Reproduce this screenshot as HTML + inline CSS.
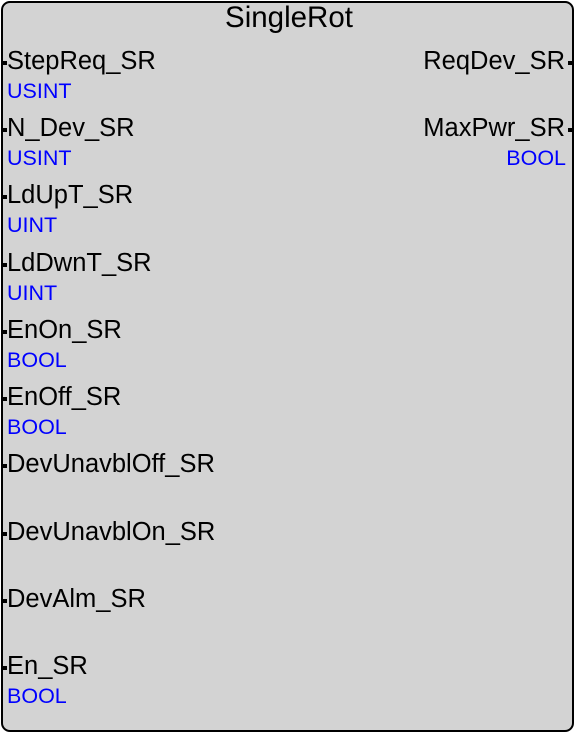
<!DOCTYPE html>
<html><head><style>
html,body{margin:0;padding:0;background:#fff;}
body{width:575px;height:732px;position:relative;overflow:hidden;font-family:"Liberation Sans",Arial,sans-serif;}
.box{position:absolute;left:1px;top:1px;width:569px;height:727px;border:2px solid #000;border-radius:9px;background:#d3d3d3;}
.t{position:absolute;font-size:25.5px;color:#000;line-height:1;white-space:nowrap;}
.ty{position:absolute;font-size:21.5px;color:#0000ff;line-height:1;white-space:nowrap;}
.p{position:absolute;width:5px;height:4px;background:#000;}
</style></head><body>
<div class="box"></div>
<div class="t" style="left:0;width:578px;text-align:center;top:3px;font-size:29.5px;">SingleRot</div>

<div class="p" style="left:2px;top:61px"></div><div class="t" style="left:7px;top:49px">StepReq_SR</div><div class="ty" style="left:7px;top:81px">USINT</div>
<div class="p" style="left:2px;top:128px"></div><div class="t" style="left:7px;top:116px">N_Dev_SR</div><div class="ty" style="left:7px;top:148px">USINT</div>
<div class="p" style="left:2px;top:195px"></div><div class="t" style="left:7px;top:183px">LdUpT_SR</div><div class="ty" style="left:7px;top:215px">UINT</div>
<div class="p" style="left:2px;top:263px"></div><div class="t" style="left:7px;top:251px">LdDwnT_SR</div><div class="ty" style="left:7px;top:283px">UINT</div>
<div class="p" style="left:2px;top:330px"></div><div class="t" style="left:7px;top:318px">EnOn_SR</div><div class="ty" style="left:7px;top:350px">BOOL</div>
<div class="p" style="left:2px;top:397px"></div><div class="t" style="left:7px;top:385px">EnOff_SR</div><div class="ty" style="left:7px;top:417px">BOOL</div>
<div class="p" style="left:2px;top:464px"></div><div class="t" style="left:7px;top:452px">DevUnavblOff_SR</div>
<div class="p" style="left:2px;top:532px"></div><div class="t" style="left:7px;top:520px">DevUnavblOn_SR</div>
<div class="p" style="left:2px;top:599px"></div><div class="t" style="left:7px;top:587px">DevAlm_SR</div>
<div class="p" style="left:2px;top:666px"></div><div class="t" style="left:7px;top:654px">En_SR</div><div class="ty" style="left:7px;top:686px">BOOL</div>

<div class="p" style="left:568px;top:61px"></div><div class="t" style="right:10px;top:49px">ReqDev_SR</div>
<div class="p" style="left:568px;top:128px"></div><div class="t" style="right:10px;top:116px">MaxPwr_SR</div><div class="ty" style="right:9px;top:148px">BOOL</div>
</body></html>
